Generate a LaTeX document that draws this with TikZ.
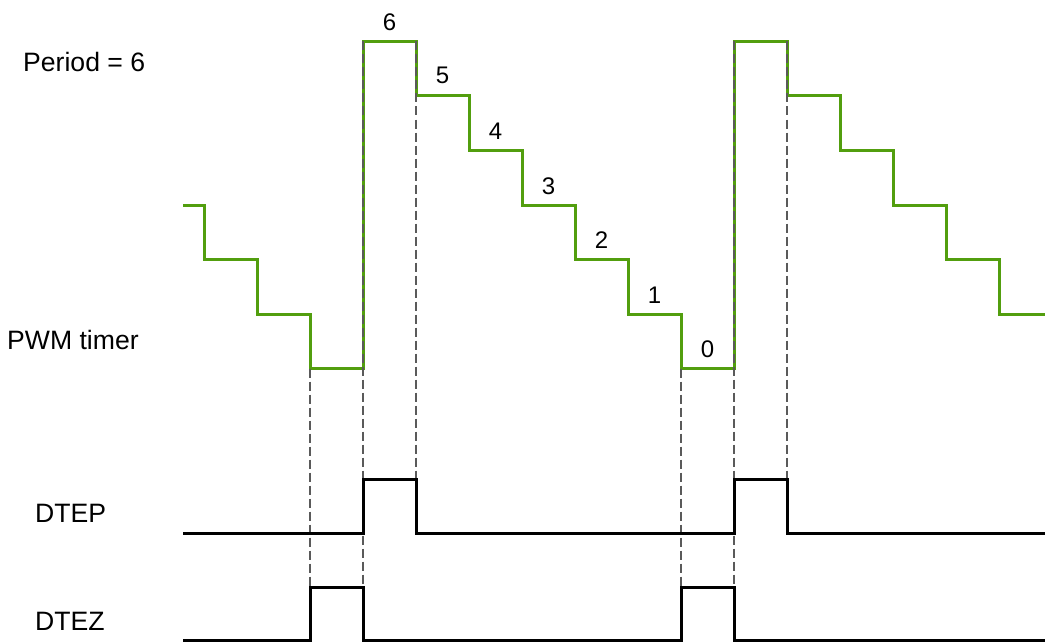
\documentclass[tikz,border=0pt]{standalone}
\usepackage{fontspec}
\setmainfont{Liberation Sans}
\usetikzlibrary{positioning}
\definecolor{timergreen}{RGB}{82,158,14}
\definecolor{guidegray}{RGB}{90,90,90}

\begin{document}
\begin{tikzpicture}[
  x=1pt, y=-1pt,
  wave/.style={draw=timergreen, line width=3pt},
  sig/.style={draw=black, line width=3pt},
  guide/.style={draw=guidegray, line width=1.2pt, dash pattern=on 9pt off 4pt},
  lbl/.style={font=\fontsize{26.6}{30}\selectfont, inner sep=0pt, anchor=base west},
  num/.style={font=\fontsize{24}{28}\selectfont, inner sep=0pt, anchor=base}
]
  \useasboundingbox (0,0) rectangle (1045,642);

  % PWM timer counting down, period 6
  \draw[wave] (183,205) -- (204,205) -- (204,259.5) -- (257,259.5) -- (257,314)
    -- (310,314) -- (310,368.5) -- (363,368.5) -- (363,41.5) -- (416,41.5)
    -- (416,96) -- (469,96) -- (469,150.5) -- (522,150.5) -- (522,205)
    -- (575,205) -- (575,259.5) -- (628,259.5) -- (628,314) -- (681,314)
    -- (681,368.5) -- (734,368.5) -- (734,41.5) -- (787,41.5) -- (787,96)
    -- (840,96) -- (840,150.5) -- (893,150.5) -- (893,205) -- (946,205)
    -- (946,259.5) -- (999,259.5) -- (999,314) -- (1045,314);

  \node[num] (n6) at (389.5,30.5) {6};
  \node[num] (n5) at (442.5,84) {5};
  \node[num] (n4) at (495.5,139.5) {4};
  \node[num] (n3) at (548.5,194) {3};
  \node[num] (n2) at (601.5,248.5) {2};
  \node[num] (n1) at (654.5,303) {1};
  \node[num] (n0) at (707.5,357.5) {0};

  % guide lines
  \draw[guide] (310,368.5) -- (310,587);
  \draw[guide] (363,41.5) -- (363,587);
  \draw[guide] (416,41.5) -- (416,479);
  \draw[guide] (681,368.5) -- (681,587);
  \draw[guide] (734,41.5) -- (734,587);
  \draw[guide] (787,41.5) -- (787,479);

  % event signals
  \draw[sig] (183,533.5) -- (363,533.5) -- (363,479) -- (416,479) -- (416,533.5)
    -- (734,533.5) -- (734,479) -- (787,479) -- (787,533.5) -- (1045,533.5);
  \draw[sig] (183,640) -- (310,640) -- (310,587.5) -- (363,587.5) -- (363,640)
    -- (681,640) -- (681,587.5) -- (734,587.5) -- (734,640) -- (1045,640);

  \node[lbl] (period) at (23,72) {Period = 6};
  \node[lbl] (timer) at (7,349) {PWM timer};
  \node[lbl] (dtep) at (35,522) {DTEP};
  \node[lbl] (dtez) at (35,630) {DTEZ};
\end{tikzpicture}
\end{document}
